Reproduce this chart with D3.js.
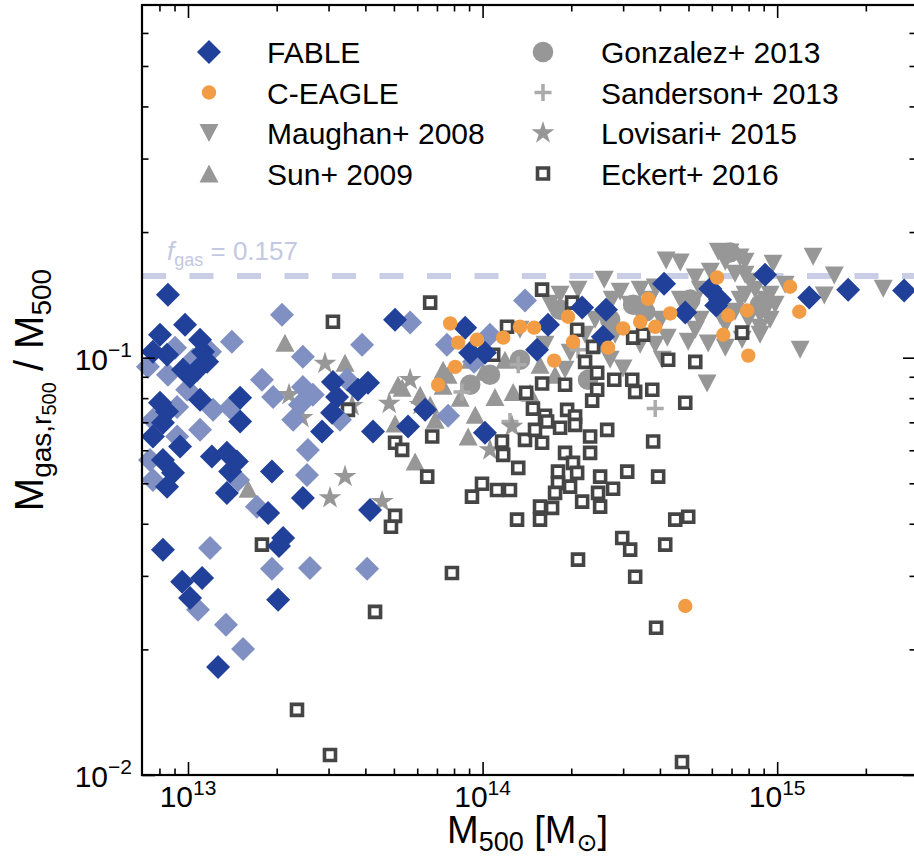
<!DOCTYPE html>
<html>
<head>
<meta charset="utf-8">
<script src="https://cdn.jsdelivr.net/npm/d3@7"></script>
<style>
body { margin: 0; background: #fff; }
svg { display: block; font-family: "Liberation Sans", Arial, Helvetica, sans-serif; }
</style>
</head>
<body>
<div id="main"></div>
<script>
// every point is [log10 M500 / Msun, log10 Mgas/M500]
let fableDark = [[12.932,-0.849],[12.990,-0.921],[12.905,-0.945],[12.881,-0.986],[12.929,-0.993],[12.983,-1.029],[13.041,-0.957],[13.051,-0.986],[13.065,-1.010],[13.031,-1.029],[13.007,-1.046],[13.041,-1.101],[13.177,-1.096],[13.177,-1.153],[12.905,-1.108],[12.929,-1.129],[12.915,-1.156],[12.881,-1.189],[12.915,-1.245],[12.973,-1.213],[12.949,-1.276],[12.929,-1.309],[13.081,-1.237],[13.132,-1.228],[13.166,-1.249],[13.143,-1.273],[13.132,-1.324],[13.285,-1.273],[13.272,-1.372],[13.323,-1.432],[13.390,-1.336],[13.455,-1.177],[13.492,-1.058],[13.506,-1.094],[13.489,-1.132],[13.577,-1.077],[13.611,-1.060],[13.628,-1.177],[13.618,-1.365],[13.703,-0.909],[13.747,-1.165],[13.805,-1.125],[12.915,-1.460],[12.980,-1.537],[13.048,-1.528],[13.007,-1.576],[13.306,-1.580],[13.102,-1.741],[13.941,-0.928],[13.958,-0.988],[14.008,-0.988],[14.222,-0.921],[14.185,-0.981],[14.338,-0.880],[14.419,-0.885],[14.409,-0.950],[14.616,-0.823],[14.688,-0.892],[14.773,-0.835],[14.806,-0.861],[14.959,-0.801],[15.109,-0.856],[15.241,-0.837],[15.431,-0.839],[14.008,-1.180],[13.309,-1.451],[14.793,-0.875]];

let fableLight = [[13.319,-0.897],[13.754,-0.916],[13.149,-0.962],[13.591,-0.969],[13.879,-0.969],[12.864,-1.022],[12.932,-1.041],[12.956,-0.976],[13.017,-1.005],[13.075,-0.986],[13.390,-0.998],[13.251,-1.053],[13.289,-1.094],[13.390,-1.070],[13.424,-1.089],[13.357,-1.149],[13.540,-1.053],[13.516,-1.149],[12.997,-1.077],[12.963,-1.118],[13.085,-1.125],[13.041,-1.173],[13.143,-1.120],[12.881,-1.149],[12.963,-1.189],[12.871,-1.245],[12.881,-1.293],[13.170,-1.293],[13.407,-1.221],[13.404,-1.281],[13.234,-1.357],[13.075,-1.456],[13.285,-1.506],[13.414,-1.504],[13.608,-1.506],[13.883,-1.139],[13.380,-1.113],[13.034,-1.604],[13.129,-1.640],[13.187,-1.698],[14.144,-0.863],[14.025,-0.945],[13.971,-1.010]];

let ceagle = [[13.890,-0.918],[13.917,-0.964],[13.981,-0.957],[13.907,-1.022],[13.849,-1.065],[14.070,-0.952],[14.127,-0.926],[14.175,-0.928],[14.243,-1.007],[14.290,-0.902],[14.307,-0.962],[14.426,-0.976],[14.477,-0.930],[14.535,-0.914],[14.562,-0.859],[14.586,-0.926],[14.637,-0.894],[14.796,-0.808],[14.834,-0.899],[14.817,-0.945],[14.898,-0.887],[14.902,-0.995],[15.044,-0.830],[15.075,-0.890],[14.688,-1.595]];

let maughan = [[14.413,-0.813],[14.229,-0.871],[14.382,-0.909],[14.297,-0.988],[14.477,-1.026],[14.610,-1.005],[14.627,-0.952],[14.698,-0.962],[14.766,-0.966],[14.762,-1.062],[15.078,-0.981],[14.623,-0.767],[14.671,-0.772],[14.800,-0.746],[14.840,-0.748],[14.874,-0.760],[14.722,-0.808],[14.773,-0.794],[14.857,-0.799],[14.986,-0.775],[15.122,-0.758],[15.194,-0.803],[15.160,-0.851],[15.360,-0.835],[14.925,-0.837],[14.959,-0.861],[14.902,-0.909],[14.942,-0.897],[14.993,-0.873],[14.874,-0.861],[14.569,-0.861],[14.535,-0.969],[14.399,-0.969],[14.348,-0.945],[14.501,-0.873],[14.739,-0.909],[14.824,-0.921],[14.976,-0.909],[14.671,-0.861],[14.127,-0.933],[14.212,-0.969],[14.433,-1.005],[14.280,-1.029],[14.824,-0.976],[14.881,-0.957],[14.942,-0.945],[14.739,-0.837],[14.606,-0.909],[15.027,-0.825],[14.891,-0.801],[14.263,-0.849],[14.324,-0.837],[14.467,-0.842],[14.535,-0.837],[14.586,-0.832],[14.440,-0.861],[14.891,-0.849],[14.976,-0.849],[14.959,-0.890],[14.857,-0.890],[14.806,-0.899],[14.705,-0.890],[14.908,-0.818],[14.450,-0.945],[14.586,-0.969],[14.722,-0.933],[14.942,-0.928],[14.824,-0.770],[14.891,-0.770]];

let sun = [[13.329,-0.964],[13.533,-1.012],[13.713,-1.065],[13.703,-1.158],[13.771,-1.249],[13.204,-1.314],[13.866,-1.029],[13.883,-1.041],[13.866,-1.067],[13.727,-1.072],[14.042,-1.094],[14.104,-1.082],[14.161,-1.084],[13.924,-1.096],[14.002,-1.034],[13.951,-1.189],[13.958,-1.005],[13.788,-1.089],[13.822,-1.113],[14.076,-1.005],[14.195,-1.017],[14.246,-1.041],[13.975,-1.137],[13.839,-1.149]];

let gonzalez = [[14.358,-1.053],[14.511,-0.873],[14.552,-0.890],[14.840,-0.748],[13.958,-1.065],[14.025,-1.041],[14.263,-0.885],[14.705,-0.861],[14.942,-0.873],[14.127,-1.005],[14.433,-0.909]];

let sanderson = [[14.121,-1.017],[14.586,-1.122],[14.093,-1.153],[13.930,-1.082],[14.324,-0.981]];

let lovisari = [[13.465,-1.014],[13.343,-1.089],[13.683,-1.110],[13.533,-1.285],[13.482,-1.336],[13.659,-1.345],[13.387,-1.144],[13.557,-1.115],[14.100,-1.165],[14.025,-1.221],[13.754,-1.053],[13.788,-1.113]];

let eckert = [[13.822,-0.868],[13.492,-0.914],[13.543,-1.125],[13.703,-1.204],[13.727,-1.221],[13.829,-1.189],[13.812,-1.285],[13.703,-1.379],[13.689,-1.405],[13.251,-1.448],[13.896,-1.516],[13.635,-1.609],[13.370,-1.844],[13.482,-1.952],[14.202,-0.837],[14.083,-0.926],[14.036,-0.993],[14.304,-0.868],[14.321,-0.933],[14.375,-0.974],[14.348,-1.010],[14.389,-1.036],[14.447,-1.053],[14.508,-1.053],[14.511,-0.952],[14.545,-0.945],[14.881,-0.940],[14.630,-1.005],[14.722,-1.010],[14.518,-1.082],[14.576,-1.077],[14.280,-1.065],[14.202,-1.062],[14.148,-1.084],[14.389,-1.077],[14.372,-1.103],[14.688,-1.108],[14.171,-1.122],[14.212,-1.139],[14.287,-1.125],[14.314,-1.141],[14.066,-1.201],[14.070,-1.233],[14.121,-1.264],[14.144,-1.197],[14.178,-1.173],[14.202,-1.204],[14.219,-1.153],[14.263,-1.168],[14.314,-1.161],[14.365,-1.189],[14.423,-1.173],[14.280,-1.228],[14.365,-1.228],[14.256,-1.273],[14.307,-1.252],[14.321,-1.276],[14.256,-1.300],[14.297,-1.309],[14.399,-1.285],[14.491,-1.273],[14.443,-1.314],[14.392,-1.324],[14.338,-1.345],[14.246,-1.324],[14.195,-1.357],[14.236,-1.360],[14.399,-1.357],[14.195,-1.388],[14.117,-1.388],[13.998,-1.302],[14.049,-1.317],[14.093,-1.317],[13.964,-1.333],[14.474,-1.432],[14.501,-1.460],[14.324,-1.484],[14.518,-1.525],[14.579,-1.201],[14.596,-1.285],[14.620,-1.448],[14.654,-1.388],[14.698,-1.381],[14.589,-1.647],[14.677,-1.969]];

let xMajor = [1e13, 1e14, 1e15];
let xMajorExp = ["13", "14", "15"];
let xMinor = [8e12, 9e12, 2e13, 3e13, 4e13, 5e13, 6e13, 7e13, 8e13, 9e13, 2e14, 3e14, 4e14, 5e14, 6e14, 7e14, 8e14, 9e14, 2e15];
let yMajor = [0.01, 0.1];
let yMajorExp = ["\u22122", "\u22121"];
let yMinor = [0.02, 0.03, 0.04, 0.05, 0.06, 0.07, 0.08, 0.09, 0.2, 0.3, 0.4, 0.5, 0.6];
let fgasCosmic = 0.157;

let width = 914, height = 857;
let pLeft = 142, pTop = 5, pRight = 916, pBottom = 775;

let svg = d3.select("#main")
    .append("svg")
    .attr("width", width)
    .attr("height", height);

var xScale = d3.scaleLog().domain([6.98e12, 2.96e15]).range([pLeft, pRight]);
var yScale = d3.scaleLog().domain([0.01, 0.7]).range([pBottom, pTop]);

let blue = "#21409a", lightBlue = "#8090c2", orange = "#f29d45", grey = "#979797";

// marker shapes
let shapes = {
    diamond: "M0,-12L12,0L0,12L-12,0Z",
    tdown: "M0,9L-9.5,-9L9.5,-9Z",
    tup: "M0,-9L9.5,9L-9.5,9Z",
    plus: "M-8.5,0H8.5M0,-8.5V8.5",
    star: d3.symbol(d3.symbolStar, 162)(),
    circle: d3.symbol(d3.symbolCircle, Math.PI * 10.3 * 10.3)(),
    dot: d3.symbol(d3.symbolCircle, Math.PI * 7.2 * 7.2)(),
    square: "M-5.5,-5.5H5.5V5.5H-5.5Z"
};

let series = [
    {name: "Maughan+ 2008", data: maughan, shape: "tdown", fill: grey, stroke: "none", sw: 0},
    {name: "Sun+ 2009", data: sun, shape: "tup", fill: grey, stroke: "none", sw: 0},
    {name: "Gonzalez+ 2013", data: gonzalez, shape: "circle", fill: grey, stroke: "none", sw: 0},
    {name: "Sanderson+ 2013", data: sanderson, shape: "plus", fill: "none", stroke: "#ababab", sw: 3.5},
    {name: "Lovisari+ 2015", data: lovisari, shape: "star", fill: grey, stroke: "none", sw: 0},
    {name: "Eckert+ 2016", data: eckert, shape: "square", fill: "#fff", stroke: "#454545", sw: 3.6},
    {name: "FABLE light", data: fableLight, shape: "diamond", fill: lightBlue, stroke: "none", sw: 0},
    {name: "FABLE", data: fableDark, shape: "diamond", fill: blue, stroke: "none", sw: 0},
    {name: "C-EAGLE", data: ceagle, shape: "dot", fill: orange, stroke: "none", sw: 0}
];

// cosmic baryon fraction line
svg.append("line")
    .attr("x1", pLeft).attr("x2", pRight)
    .attr("y1", yScale(fgasCosmic)).attr("y2", yScale(fgasCosmic))
    .attr("stroke", "#c9cee6")
    .attr("stroke-width", 6)
    .attr("stroke-dasharray", "24,23.5");

let fLabel = svg.append("text")
    .attr("x", pLeft + 25)
    .attr("y", yScale(fgasCosmic) - 16)
    .attr("fill", "#c3c9e1")
    .style("font-size", "26px");
fLabel.append("tspan").style("font-style", "italic").text("f");
fLabel.append("tspan").attr("dy", 6).style("font-size", "18px").text("gas");
fLabel.append("tspan").attr("dy", -6).text(" = " + fgasCosmic);

let g = svg.append("g");

series.forEach(s => {
    g.append("g").selectAll("path")
        .data(s.data)
        .enter()
        .append("path")
        .attr("d", shapes[s.shape])
        .attr("transform", d => `translate(${xScale(Math.pow(10, d[0]))},${yScale(Math.pow(10, d[1]))})`)
        .attr("fill", s.fill)
        .attr("stroke", s.stroke)
        .attr("stroke-width", s.sw);
});

// frame and ticks (all pointing inward)
function ticks(axis, vals, size, tx){
    let a = svg.append("g")
        .attr("transform", tx)
        .call(axis.tickValues(vals).tickSize(-size).tickFormat(""));
    a.select(".domain").remove();
    a.selectAll("line").attr("stroke", "#000").attr("stroke-width", 1.6);
}
ticks(d3.axisBottom(xScale), xMajor, 13, `translate(0,${pBottom})`);
ticks(d3.axisBottom(xScale), xMinor, 6.5, `translate(0,${pBottom})`);
ticks(d3.axisTop(xScale), xMajor, 13, `translate(0,${pTop})`);
ticks(d3.axisTop(xScale), xMinor, 6.5, `translate(0,${pTop})`);
ticks(d3.axisLeft(yScale), yMajor, 13, `translate(${pLeft},0)`);
ticks(d3.axisLeft(yScale), yMinor, 6.5, `translate(${pLeft},0)`);
ticks(d3.axisRight(yScale), yMajor, 13, `translate(${pRight},0)`);
ticks(d3.axisRight(yScale), yMinor, 6.5, `translate(${pRight},0)`);

svg.append("rect")
    .attr("x", pLeft).attr("y", pTop)
    .attr("width", pRight - pLeft).attr("height", pBottom - pTop)
    .attr("fill", "none")
    .attr("stroke", "#000")
    .attr("stroke-width", 2.2);

// tick labels
xMajor.forEach((v, i) => {
    let t = svg.append("text")
        .attr("x", xScale(v))
        .attr("y", pBottom + 32)
        .attr("text-anchor", "middle")
        .style("font-size", "30px");
    t.append("tspan").text("10");
    t.append("tspan").attr("dy", -12).style("font-size", "21px").text(xMajorExp[i]);
});
yMajor.forEach((v, i) => {
    let t = svg.append("text")
        .attr("x", pLeft - 10)
        .attr("y", yScale(v) + 12)
        .attr("text-anchor", "end")
        .style("font-size", "30px");
    t.append("tspan").text("10");
    t.append("tspan").attr("dy", -13).style("font-size", "21px").text(yMajorExp[i]);
});

// axis titles
let xt = svg.append("text")
    .attr("x", (pLeft + 913) / 2)
    .attr("y", 843)
    .attr("text-anchor", "middle")
    .style("font-size", "38px");
xt.append("tspan").text("M");
xt.append("tspan").attr("dy", 8).style("font-size", "27px").text("500");
xt.append("tspan").attr("dy", -8).text(" [M");
xt.append("tspan").attr("dy", 8).style("font-size", "25px").style("font-family", "DejaVu Sans").text("\u2299");
xt.append("tspan").attr("dy", -8).text("]");

let yt = svg.append("text")
    .attr("transform", `translate(43,${(pTop + pBottom) / 2}) rotate(-90)`)
    .attr("text-anchor", "middle")
    .style("font-size", "40px");
yt.append("tspan").text("M");
yt.append("tspan").attr("dy", 8).style("font-size", "28px").text("gas,r");
yt.append("tspan").attr("dy", 5).style("font-size", "20px").text("500");
yt.append("tspan").attr("dy", -13).text(" / M");
yt.append("tspan").attr("dy", 8).style("font-size", "28px").text("500");

// legend
let legendRows = [
    {label: "FABLE", s: series[7], col: 0},
    {label: "C-EAGLE", s: series[8], col: 0},
    {label: "Maughan+ 2008", s: series[0], col: 0},
    {label: "Sun+ 2009", s: series[1], col: 0},
    {label: "Gonzalez+ 2013", s: series[2], col: 1},
    {label: "Sanderson+ 2013", s: series[3], col: 1},
    {label: "Lovisari+ 2015", s: series[4], col: 1},
    {label: "Eckert+ 2016", s: series[5], col: 1}
];
let colX = [209, 543];
legendRows.forEach((r, i) => {
    let row = i % 4;
    let cy = 52 + row * 40.5;
    svg.append("path")
        .attr("d", shapes[r.s.shape])
        .attr("transform", `translate(${colX[r.col]},${cy})`)
        .attr("fill", r.s.fill)
        .attr("stroke", r.s.stroke)
        .attr("stroke-width", r.s.sw);
    svg.append("text")
        .attr("x", colX[r.col] + 58)
        .attr("y", cy + 11)
        .style("font-size", "30px")
        .text(r.label);
});
</script>
</body>
</html>
